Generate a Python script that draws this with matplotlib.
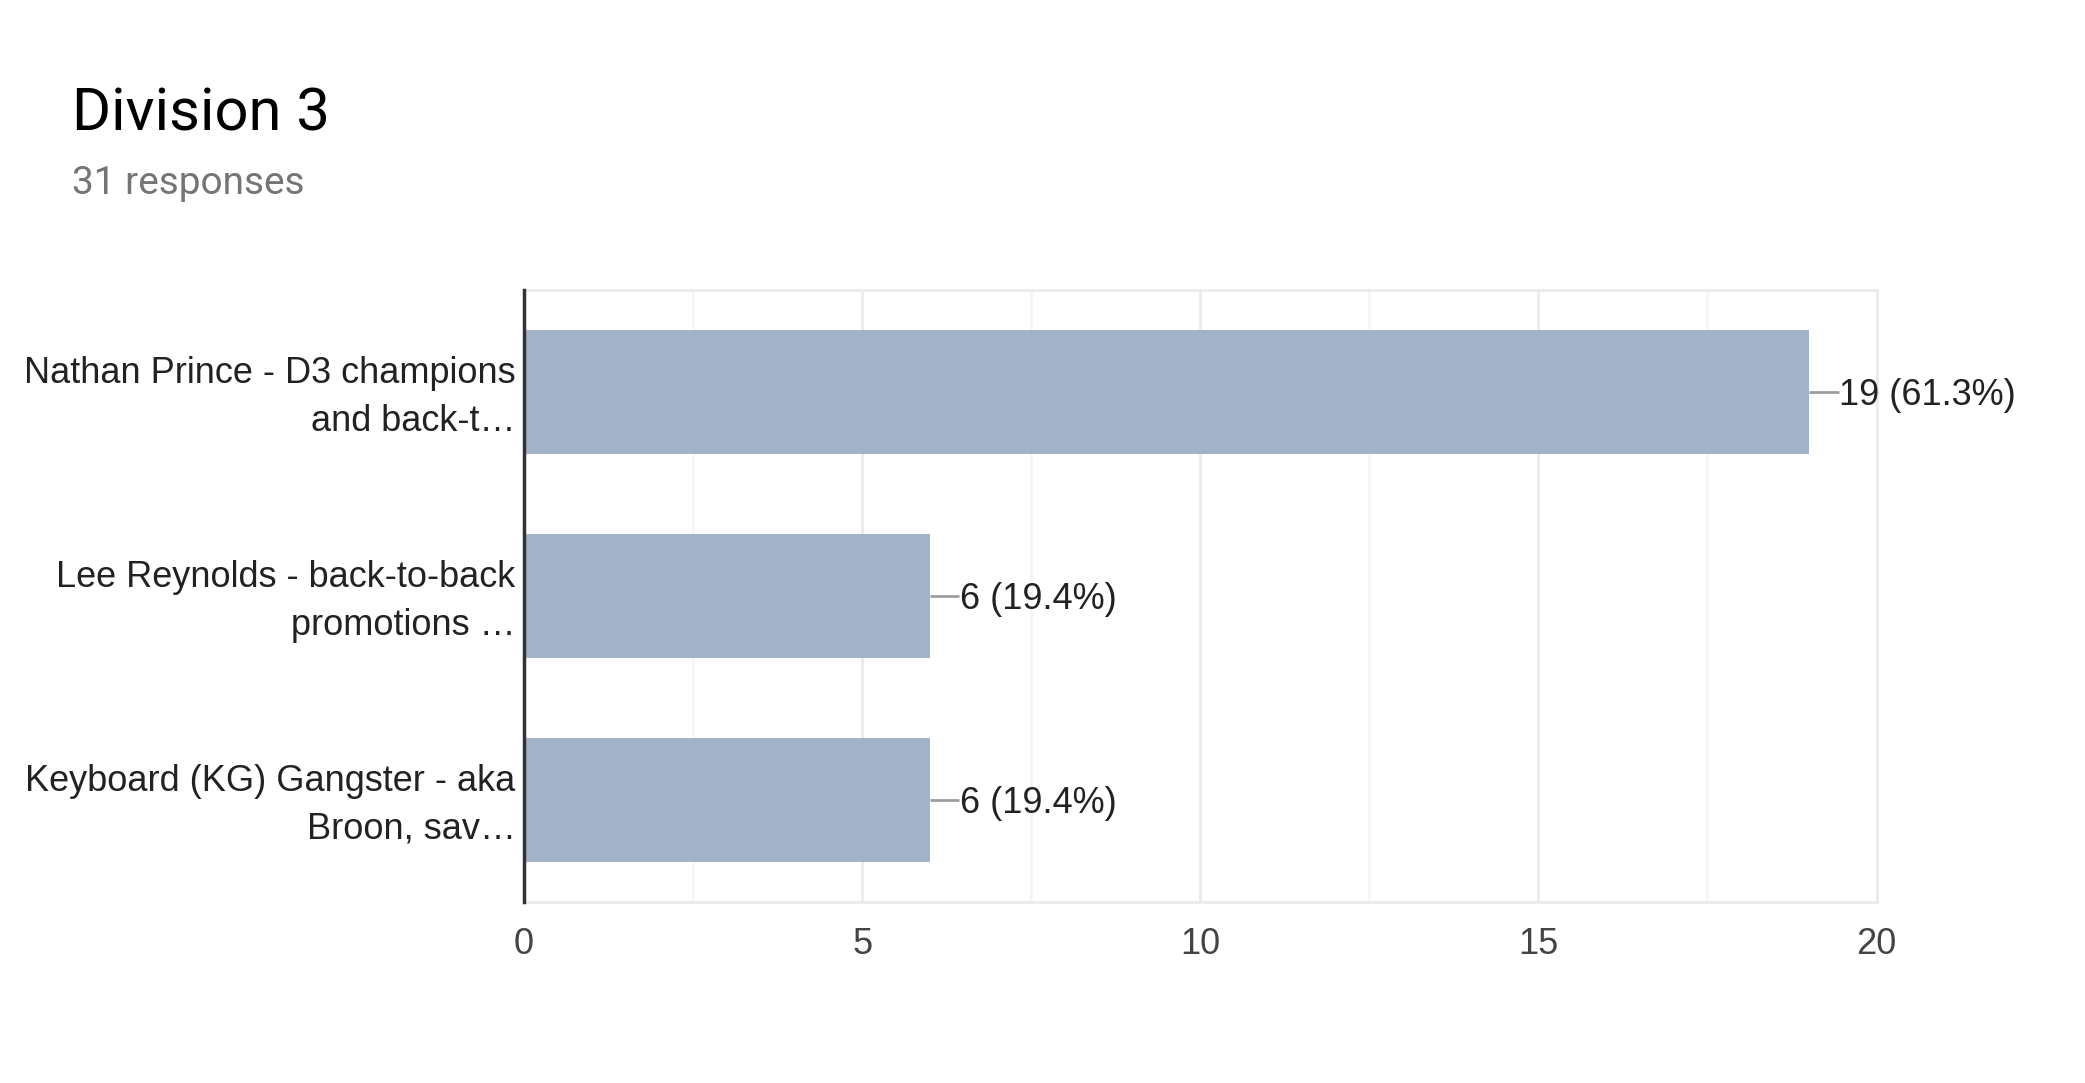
import numpy as np
import matplotlib.pyplot as plt
import matplotlib.transforms as mtransforms
from matplotlib.ticker import MultipleLocator

# chart data
categories = ["Nathan Prince - D3 champions\nand back-t\u2026",
              "Lee Reynolds - back-to-back\npromotions \u2026",
              "Keyboard (KG) Gangster - aka\nBroon, sav\u2026"]
counts = [19, 6, 6]
total = 31
x_ticks = [0, 5, 10, 15, 20]

fig = plt.figure(figsize=(20.85, 10.83), dpi=100)
ax = fig.add_axes([0.2513, 0.167, 0.6487, 0.565])

ypos = np.arange(len(categories))
ax.barh(ypos, counts, height=0.61, color="#a2b3c9", zorder=3)

for y, c in zip(ypos, counts):
    pct = c / total * 100
    ax.plot([c, c + 0.44], [y, y], color="#9e9e9e", lw=2, zorder=3,
            solid_capstyle="butt")
    ax.text(c + 0.45, y + 0.015, f"{c} ({pct:.1f}%)", va="center", ha="left",
            fontsize=26, color="#222222", family="Liberation Sans")

ax.set_xlim(0, 20)
ax.set_ylim(len(categories) - 0.5, -0.5)
ax.set_xticks(x_ticks)
ax.xaxis.set_minor_locator(MultipleLocator(2.5))
ax.grid(axis="x", which="major", color="#ebebeb", lw=2, zorder=0)
ax.grid(axis="x", which="minor", color="#f5f5f5", lw=2, zorder=0)

ax.set_yticks(ypos)
ax.set_yticklabels(categories, fontsize=26, color="#222222",
                   family="Liberation Sans", linespacing=1.47)
ax.tick_params(axis="y", length=0, pad=6)
# nudge the two-line labels up a little
shift = mtransforms.ScaledTranslation(0, 5 / 100, fig.dpi_scale_trans)
for lab in ax.get_yticklabels():
    lab.set_transform(lab.get_transform() + shift)
ax.tick_params(axis="x", which="both", length=0, pad=18, labelsize=26,
               labelcolor="#444444")
for lab in ax.get_xticklabels():
    lab.set_family("Liberation Sans")

for s in ["top", "right", "bottom"]:
    ax.spines[s].set_color("#ebebeb")
    ax.spines[s].set_linewidth(2)
ax.spines["left"].set_color("#333333")
ax.spines["left"].set_linewidth(2.5)
ax.spines["left"].set_zorder(5)

fig.text(72 / 2085, 1 - 114 / 1083, "Division 3", fontsize=43,
         family="Roboto", color="#000000", va="center", ha="left")
fig.text(72 / 2085, 1 - 184 / 1083, "31 responses", fontsize=28,
         family="Roboto", color="#757575", va="center", ha="left")

fig.savefig("out.png", dpi=100, facecolor="white")
